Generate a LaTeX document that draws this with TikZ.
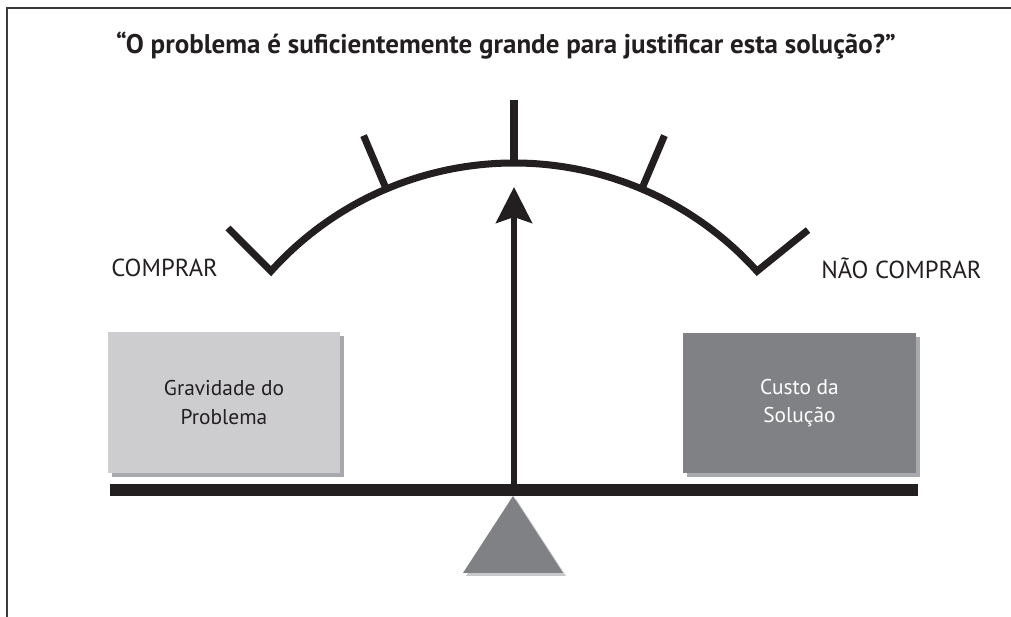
\documentclass[tikz,border=0pt]{standalone}
\usepackage{fontspec}
\setmainfont{PT Sans}
\usetikzlibrary{arrows.meta,shadows}
\definecolor{tinta}{HTML}{231F20}
\definecolor{cinzaclaro}{HTML}{CDCDCF}
\definecolor{cinzaescuro}{HTML}{808184}
\definecolor{sombra}{HTML}{A7A9AC}
\definecolor{sombraclara}{HTML}{C7C8CA}
\definecolor{moldura}{HTML}{3A3A3C}
\begin{document}
\begin{tikzpicture}[x=0.025cm, y=0.025cm,
    caixa/.style={minimum width=5.8cm, minimum height=3.5cm, align=center, inner sep=0pt,
      font=\fontsize{15.2}{20}\selectfont,
      drop shadow={shadow xshift=0.1cm, shadow yshift=-0.1cm, fill=sombra, opacity=1}},
    rotulo/.style={anchor=west, inner sep=0pt, text=tinta, font=\fontsize{17.5}{20}\selectfont},
    traco/.style={draw=tinta, line width=5pt}]
        \useasboundingbox (0,0) rectangle (1011,617);

        % Moldura
        \draw[moldura, line width=1.2pt] (7,0) -- (7,609) -- (1011,609);

        % Pergunta
        \node[text=tinta, font=\bfseries\fontsize{19.2}{22}\selectfont] (titulo) at (506,571)
            {“O problema é suficientemente grande para justificar esta solução?”};

        % Escala (arco centrado no pivo)
        \coordinate (C) at (514,127);
        \coordinate (extE) at ([shift={(138:327)}]C);
        \coordinate (extD) at ([shift={(42:327)}]C);
        \draw[traco] (228,389) -- (extE) arc[start angle=138, end angle=42, radius=327] -- (808,387);

        % Marcas da escala
        \draw[traco] ([shift={(113:324)}]C) -- ([shift={(113:385)}]C);
        \draw[traco] ([shift={(90:324)}]C) -- ([shift={(90:390)}]C);
        \draw[traco] ([shift={(67:324)}]C) -- ([shift={(67:385)}]C);

        % Rotulos dos extremos
        \node[rotulo] (comprar) at (111,349) {COMPRAR};
        \node[rotulo] (naocomprar) at (821,349) {NÃO COMPRAR};

        % Pratos da balanca
        \node[caixa, fill=cinzaclaro, text=tinta] (G) at (224,214.5) {Gravidade do\\Problema};
        \node[caixa, fill=cinzaescuro, text=white] (S) at (799.5,214) {Custo da\\Solução};

        % Apoio
        \fill[sombraclara] (466,41) -- (516,118) -- (566,41) -- cycle;
        \fill[cinzaescuro] (463,44) -- (513,121) -- (563,44) -- cycle;

        % Travessao
        \fill[tinta] (110,121) rectangle (918,133);

        % Ponteiro
        \coordinate (pivo) at (514,132);
        \coordinate (ponta) at (514,430);
        \draw[tinta, line width=4.3pt, -{Stealth[length=0.9cm, width=0.9cm, inset=0.15cm]}] (pivo) -- (ponta);
      \end{tikzpicture}
\end{document}
